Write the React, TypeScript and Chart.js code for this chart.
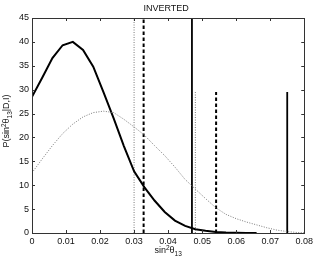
import React, { useEffect, useRef } from "react";
import { Chart, registerables } from "chart.js";

Chart.register(...registerables);

const curveX = [0, 0.003, 0.006, 0.009, 0.012, 0.015, 0.018, 0.021, 0.024, 0.027, 0.03, 0.033, 0.036, 0.039, 0.042, 0.045, 0.048, 0.051, 0.054, 0.057, 0.06, 0.063, 0.066];
const solidY = [28.5, 32.5, 36.6, 39.3, 40.0, 38.3, 34.8, 29.5, 24.0, 18.2, 12.9, 9.6, 6.8, 4.4, 2.6, 1.5, 0.8, 0.45, 0.22, 0.1, 0.04, 0.01, 0];

const dotX = [0, 0.003, 0.006, 0.009, 0.012, 0.015, 0.018, 0.021, 0.024, 0.027, 0.03, 0.033, 0.036, 0.039, 0.042, 0.045, 0.048, 0.051, 0.054, 0.057, 0.06, 0.063, 0.066, 0.069, 0.072, 0.075, 0.078, 0.08];
const dotY = [12.6, 15.5, 18.3, 20.8, 22.8, 24.3, 25.2, 25.5, 25.2, 23.8, 22.2, 20.5, 18.3, 16.2, 13.8, 11.2, 9.2, 7.2, 5.3, 3.9, 3.0, 2.3, 1.7, 1.1, 0.6, 0.3, 0.1, 0.05];

// vertical markers: [x, top]
const grayDotLines = [[0.030, 45], [0.048, 29.5]];
const dashLines = [[0.0328, 45], [0.0541, 29.5]];
const solidLines = [[0.047, 45], [0.075, 29.5]];

const xTicks = [0, 0.01, 0.02, 0.03, 0.04, 0.05, 0.06, 0.07, 0.08];
const yTicks = [0, 5, 10, 15, 20, 25, 30, 35, 40, 45];

const titleText = "INVERTED";

const FONT = "'Liberation Sans', Arial, Helvetica, sans-serif";

type Part = { t: string; size: number; dy: number };

function drawRich(ctx: CanvasRenderingContext2D, parts: Part[], cx: number, cy: number) {
  let total = 0;
  for (const p of parts) {
    ctx.font = `${p.size}px ${FONT}`;
    total += ctx.measureText(p.t).width;
  }
  let x = cx - total / 2;
  ctx.textAlign = "left";
  ctx.textBaseline = "middle";
  for (const p of parts) {
    ctx.font = `${p.size}px ${FONT}`;
    ctx.fillText(p.t, x, cy + p.dy);
    x += ctx.measureText(p.t).width;
  }
}

const decor = {
  id: "decor",
  afterDraw(chart: any) {
    const ctx: CanvasRenderingContext2D = chart.ctx;
    const { left, right, top, bottom } = chart.chartArea;
    const xs = chart.scales.x;
    const ys = chart.scales.y;
    ctx.save();
    ctx.strokeStyle = "#333";
    ctx.lineWidth = 1;
    ctx.strokeRect(Math.round(left) + 0.5, Math.round(top) + 0.5, Math.round(right - left), Math.round(bottom - top));
    ctx.beginPath();
    const tl = 3;
    for (const v of xTicks) {
      const px = Math.round(xs.getPixelForValue(v)) + 0.5;
      ctx.moveTo(px, bottom);
      ctx.lineTo(px, bottom - tl);
      ctx.moveTo(px, top);
      ctx.lineTo(px, top + tl);
    }
    for (const v of yTicks) {
      const py = Math.round(ys.getPixelForValue(v)) + 0.5;
      ctx.moveTo(left, py);
      ctx.lineTo(left + tl, py);
      ctx.moveTo(right, py);
      ctx.lineTo(right - tl, py);
    }
    ctx.stroke();

    ctx.fillStyle = "#111";
    ctx.font = `9px ${FONT}`;
    ctx.textAlign = "center";
    ctx.textBaseline = "middle";
    ctx.fillText(titleText, (left + right) / 2 - 2, 9);

    drawRich(ctx, [
      { t: "sin", size: 9, dy: 0 },
      { t: "2", size: 6.5, dy: -3 },
      { t: "θ", size: 9, dy: 0 },
      { t: "13", size: 6.5, dy: 3 },
    ], (left + right) / 2, 251);

    ctx.save();
    ctx.translate(7, 121);
    ctx.rotate(-Math.PI / 2);
    drawRich(ctx, [
      { t: "P(sin", size: 9, dy: 0 },
      { t: "2", size: 6.5, dy: -3 },
      { t: "θ", size: 9, dy: 0 },
      { t: "13", size: 6.5, dy: 3 },
      { t: "|D,I)", size: 9, dy: 0 },
    ], 0, 0);
    ctx.restore();
    ctx.restore();
  },
};

export default function App() {
  const ref = useRef<HTMLCanvasElement | null>(null);
  useEffect(() => {
    if (!ref.current) return;
    const vline = (pairs: number[][], color: string, width: number, dash: number[]) =>
      pairs.map((p) => ({
        data: [{ x: p[0], y: 0 }, { x: p[0], y: p[1] }],
        borderColor: color,
        borderWidth: width,
        borderDash: dash,
        showLine: true,
        pointRadius: 0,
        borderCapStyle: "butt" as const,
      }));
    const chart = new Chart(ref.current, {
      type: "scatter",
      data: {
        datasets: [
          {
            data: dotX.map((x, i) => ({ x, y: dotY[i] })),
            borderColor: "#7a7a7a",
            borderWidth: 1,
            borderDash: [1, 1.5],
            showLine: true,
            pointRadius: 0,
          },
          {
            data: curveX.map((x, i) => ({ x, y: solidY[i] })),
            borderColor: "#000",
            borderWidth: 2,
            showLine: true,
            pointRadius: 0,
          },
          ...vline(grayDotLines, "#7a7a7a", 1, [1, 1.5]),
          ...vline(dashLines, "#000", 2, [3.5, 2.5]),
          ...vline(solidLines, "#000", 1.8, []),
        ],
      },
      options: {
        animation: false,
        responsive: false,
        layout: { padding: { top: 18, right: 11, left: 0, bottom: 0 } },
        plugins: { legend: { display: false }, tooltip: { enabled: false }, title: { display: false } },
        scales: {
          x: {
            type: "linear",
            min: 0,
            max: 0.08,
            grid: { display: false, drawTicks: false, tickLength: 0 },
            border: { display: false },
            afterBuildTicks: (s: any) => { s.ticks = xTicks.map((v) => ({ value: v })); },
            afterFit: (s: any) => { s.height = 29; },
            ticks: {
              padding: 3,
              color: "#111",
              font: { family: FONT, size: 9 },
              maxRotation: 0,
              callback: (v: any) => (Number(v) === 0 ? "0" : Number(v).toFixed(2)),
            },
          },
          y: {
            type: "linear",
            min: 0,
            max: 45,
            grid: { display: false, drawTicks: false, tickLength: 0 },
            border: { display: false },
            afterBuildTicks: (s: any) => { s.ticks = yTicks.map((v) => ({ value: v })); },
            afterFit: (s: any) => { s.width = 32; },
            ticks: {
              padding: 3,
              color: "#111",
              font: { family: FONT, size: 9 },
              callback: (v: any) => String(v),
            },
          },
        },
      },
      plugins: [decor],
    });
    return () => chart.destroy();
  }, []);
  return (
    <div style={{ position: "absolute", left: 0, top: 0, width: 316, height: 262, background: "#fff" }}>
      <canvas ref={ref} width={316} height={262} style={{ display: "block" }} />
    </div>
  );
}
